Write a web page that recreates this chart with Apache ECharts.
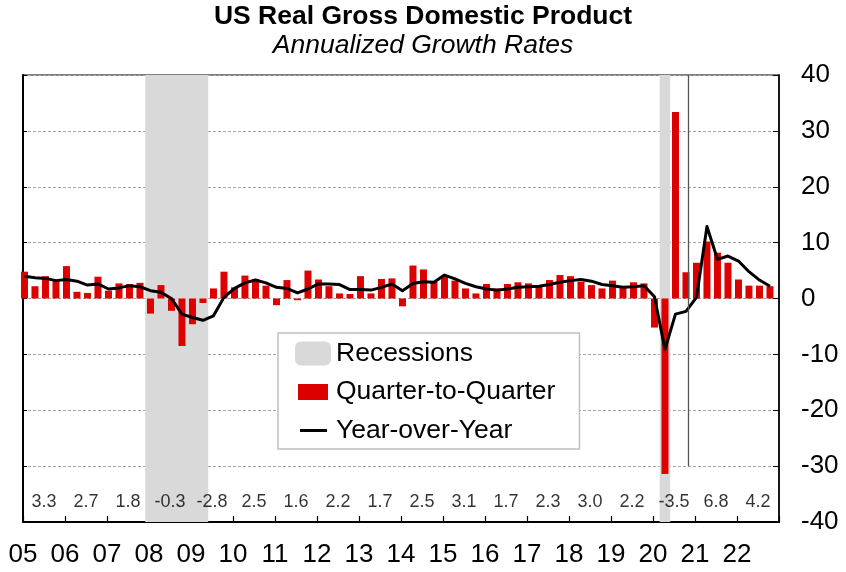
<!DOCTYPE html>
<html><head><meta charset="utf-8">
<script src="https://cdn.jsdelivr.net/npm/echarts@6/dist/echarts.min.js"></script>
<style>html,body{margin:0;padding:0;background:#fff}#c{width:846px;height:572px}</style>
</head><body><div id="c"></div>
<script>
// ---- data ----
const years = ['2005','2006','2007','2008','2009','2010','2011','2012','2013','2014','2015','2016','2017','2018','2019','2020','2021','2022'];
const yearLabels = ['05','06','07','08','09','10','11','12','13','14','15','16','17','18','19','20','21','22'];
const annualGrowth = ['3.3','2.7','1.8','-0.3','-2.8','2.5','1.6','2.2','1.7','2.5','3.1','1.7','2.3','3.0','2.2','-3.5','6.8','4.2'];
const quarterToQuarter = [
  4.8, 2.2, 4.0, 3.1,
  5.8, 1.2, 1.0, 3.9,
  1.4, 2.7, 2.6, 2.8,
  -2.7, 2.4, -2.2, -8.5,
  -4.6, -0.8, 1.8, 4.8,
  2.0, 4.1, 3.5, 2.3,
  -1.2, 3.3, -0.3, 5.0,
  3.4, 2.2, 0.9, 0.8,
  4.0, 0.9, 3.5, 3.6,
  -1.4, 5.9, 5.2, 3.0,
  4.0, 3.2, 1.8, 0.9,
  2.6, 1.8, 2.6, 2.9,
  2.7, 2.1, 3.3, 4.2,
  4.0, 3.0, 2.4, 1.8,
  3.2, 2.2, 2.9, 2.7,
  -5.2, -31.4, 33.4, 4.7,
  6.4, 10.2, 8.2, 6.4,
  3.4, 2.3, 2.3, 2.2
];
const yearOverYear = [
  4.0, 3.7, 3.6, 3.2,
  3.4, 3.1, 2.4, 2.6,
  1.7, 1.9, 2.3, 2.1,
  1.4, 1.1, 0.0, -2.8,
  -3.4, -3.9, -3.1, 0.2,
  1.8, 2.8, 3.3, 2.8,
  2.0, 1.8, 1.0, 1.7,
  2.6, 2.6, 2.5, 1.6,
  1.6, 1.5, 2.0, 2.6,
  1.4, 2.7, 3.0, 2.9,
  4.2, 3.5, 2.7, 2.1,
  1.7, 1.5, 1.7, 2.0,
  2.1, 2.2, 2.5, 2.9,
  3.2, 3.4, 3.1, 2.5,
  2.3, 2.0, 2.1, 2.3,
  0.3, -9.1, -2.8, -2.3,
  0.2, 12.9, 7.0, 7.6,
  6.7, 4.8, 3.3, 2.2
];
// recession periods as [first quarter index, last quarter index + 1]
const recessions = [[12, 18], [61, 62]];
// forecast divider, in quarter units
const forecastDivider = 63.72;

// quarter category names
const quarters = [];
years.forEach(y => { for (let q = 1; q <= 4; q++) quarters.push(y + 'Q' + q); });

// ---- layout helpers ----
const SHIFT = -0.36;               // bars sit slightly left of the year grid
const qPos = i => i + 0.5 + SHIFT;
const FONT = '"Liberation Sans", Arial, sans-serif';

const chart = echarts.init(document.getElementById('c'), null, {renderer: 'canvas'});
chart.setOption({
  animation: false,
  backgroundColor: '#fff',
  title: {
    text: 'US Real Gross Domestic Product',
    subtext: 'Annualized Growth Rates',
    left: 'center', top: 3, padding: 0, itemGap: 1,
    textStyle: {fontFamily: FONT, fontSize: 26.5, fontWeight: 'bold', color: '#000', lineHeight: 28},
    subtextStyle: {fontFamily: FONT, fontSize: 26.5, fontStyle: 'italic', color: '#000', lineHeight: 28}
  },
  legend: {
    orient: 'vertical', left: 278, top: 333,
    padding: [7, 24, 5, 17], itemGap: 11.5, itemWidth: 36, itemHeight: 24, itemTextGap: 0,
    borderColor: '#c0c0c0', borderWidth: 1.5, backgroundColor: '#fff',
    textStyle: {fontFamily: FONT, fontSize: 26.5, color: '#000', lineHeight: 26},
    selectedMode: false,
    data: [
      {name: 'Recessions', icon: 'roundRect', itemStyle: {color: '#d9d9d9', borderWidth: 0}},
      {name: 'Quarter-to-Quarter', icon: 'path://M0,0M3,4h30v16h-30zM36,24', itemStyle: {color: '#dd0000', borderWidth: 0}},
      {name: 'Year-over-Year', icon: 'path://M0,0M5,10.5h27v3h-27zM36,24', itemStyle: {color: '#000', borderWidth: 0}}
    ]
  },
  grid: {left: 23, right: 67, top: 75, bottom: 50, show: true, borderColor: '#000', borderWidth: 1.2, backgroundColor: 'transparent'},
  xAxis: {
    type: 'value', min: 0, max: 72, interval: 4,
    axisLine: {onZero: false, lineStyle: {color: '#000', width: 2}},
    axisTick: {inside: true, length: 6, lineStyle: {color: '#000', width: 1.2}},
    axisLabel: {margin: 20, fontFamily: FONT, fontSize: 26, color: '#000',
      formatter: v => (yearLabels[v / 4] !== undefined ? yearLabels[v / 4] : '')},
    splitLine: {show: false}
  },
  yAxis: [
    {
      type: 'value', position: 'right', min: -40, max: 40, interval: 10,
      axisLine: {show: true, onZero: false, lineStyle: {color: '#000', width: 1.5}},
      axisTick: {show: true, inside: true, length: 6, lineStyle: {color: '#000'}},
      axisLabel: {margin: 22, fontFamily: FONT, fontSize: 26, color: '#000'},
      splitLine: {show: true, lineStyle: {color: '#a6a6a6', type: [3, 2], width: 1}}
    },
    {
      type: 'value', position: 'left', min: -40, max: 40, interval: 10,
      axisLine: {show: true, onZero: false, lineStyle: {color: '#000', width: 2}},
      axisTick: {show: true, inside: true, length: 4, lineStyle: {color: '#000'}},
      axisLabel: {show: false},
      splitLine: {show: false}
    }
  ],
  series: [
    {
      name: 'Recessions', type: 'line', data: [], itemStyle: {color: '#d9d9d9'}
    },
    {
      name: 'Quarter-to-Quarter', type: 'bar', barWidth: 7,
      itemStyle: {color: '#dd0000'},
      data: quarterToQuarter.map((v, i) => [qPos(i), v]),
      markArea: {
        silent: true,
        itemStyle: {color: '#d9d9d9'},
        data: recessions.map(([a, b]) => [{xAxis: a + SHIFT}, {xAxis: b + SHIFT}])
      }
    },
    {
      name: 'Year-over-Year', type: 'line', symbol: 'none', z: 4,
      lineStyle: {color: '#000', width: 3, join: 'round'},
      itemStyle: {color: '#000'},
      data: yearOverYear.map((v, i) => [qPos(i), v]),
      markLine: {
        silent: true, symbol: ['none', 'none'], label: {show: false},
        lineStyle: {color: '#555', width: 1.3, type: 'solid'},
        data: [[{coord: [forecastDivider + SHIFT, -30]}, {coord: [forecastDivider + SHIFT, 40]}]]
      }
    },
    {
      name: 'annual', type: 'scatter', symbolSize: 1, silent: true,
      itemStyle: {color: 'rgba(0,0,0,0)'},
      data: annualGrowth.map((t, k) => [4 * k + 2, -36.4]),
      label: {show: true, position: 'inside', fontFamily: FONT, fontSize: 18, color: '#000',
        formatter: p => annualGrowth[p.dataIndex]}
    }
  ]
});
</script>
</body></html>
